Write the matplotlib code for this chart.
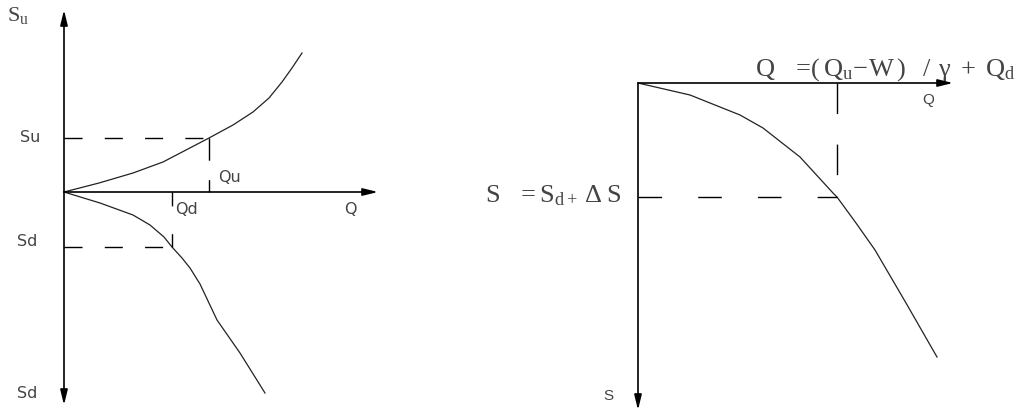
import matplotlib
matplotlib.use("Agg")
import matplotlib.pyplot as plt

plt.rcParams['font.family'] = ['DejaVu Sans']
plt.rcParams['mathtext.fontset'] = 'custom'
plt.rcParams['mathtext.rm'] = 'Liberation Serif'
plt.rcParams['mathtext.it'] = 'Liberation Serif'
plt.rcParams['lines.scale_dashes'] = False

# left panel: Q to the right, S positive up (upstream) / negative down (downstream)
up_q = [0, 35, 69, 99, 145, 169, 189, 205, 218, 228, 238]
up_s = [0, 9, 19, 30, 54, 67, 80, 94, 110, 124, 139]
down_q = [0, 36, 69, 86, 100, 108, 118, 126, 136, 153, 176, 201]
down_s = [0, -11, -23, -33, -45, -55, -66, -76, -92, -128, -161, -201]
qu, su = 145, 54
qd, sd = 108, -55

# right panel: Q to the right, S positive down
res_q = [0, 52, 102, 125, 162, 195, 199, 218, 237, 268, 299]
res_s = [0, 12, 32, 45, 74, 110, 114, 140, 167, 220, 274]
q_res, s_res = 199, 114

TXT = '#444444'
LINE = '#222222'
DASH = (13, 16)

fig = plt.figure(figsize=(10.2, 4.13), dpi=100)
ax1 = fig.add_axes([0, 0, 0.5, 1])
ax2 = fig.add_axes([0.5, 0, 0.5, 1])
for ax in (ax1, ax2):
    ax.axis('off')
ax1.set_xlim(-64, 446)
ax1.set_ylim(-221, 192)
ax2.set_xlim(-128, 382)
ax2.set_ylim(330, -83)


def arrow(ax, tip, tail, style='-|>'):
    ax.annotate("", xy=tip, xytext=tail,
                arrowprops=dict(arrowstyle=style + ',head_length=0.9,head_width=0.22',
                                lw=1.2, color='black', mutation_scale=10,
                                shrinkA=0, shrinkB=0))


# ---- left panel ----
arrow(ax1, (0, 182), (0, -213), style='<|-|>')
arrow(ax1, (314, 0), (0, 0))
ax1.plot(up_q, up_s, color=LINE, lw=0.9)
ax1.plot(down_q, down_s, color=LINE, lw=0.9)
ax1.plot([0, qu], [su, su], color='black', lw=1, dashes=DASH)
ax1.plot([qu, qu], [su, 0], color='black', lw=1, dashes=(16, 14))
ax1.plot([0, qd], [sd, sd], color='black', lw=1, dashes=DASH)
ax1.plot([qd, qd], [0, sd], color='black', lw=1, dashes=(10, 20, 14, 4))

ax1.text(-46, 177, r"$\mathrm{S_u}$", fontsize=16, color=TXT, ha='center', va='center')
ax1.text(-34, su, "Su", fontsize=11.5, color=TXT, ha='center', va='center')
ax1.text(-37, sd + 6, "Sd", fontsize=11.5, color=TXT, ha='center', va='center')
ax1.text(-37, -201, "Sd", fontsize=11.5, color=TXT, ha='center', va='center')
ax1.text(154, 15, "Qu", fontsize=11.5, color=TXT, ha='left', va='center')
ax1.text(qd + 3, -18, "Qd", fontsize=11.5, color=TXT, ha='left', va='center')
ax1.text(286, -17, "Q", fontsize=11.5, color=TXT, ha='center', va='center')

# ---- right panel ----
arrow(ax2, (315, 0), (0, 0))
arrow(ax2, (0, 327), (0, 0))
ax2.plot(res_q, res_s, color=LINE, lw=0.9)
ax2.plot([0, q_res], [s_res, s_res], color='black', lw=1, dashes=(17, 26))
ax2.plot([q_res, q_res], [0, s_res], color='black', lw=1, dashes=(22, 22))

ax2.text(117, -7,
         r"$\mathrm{Q\;\;\;=\!(\,Q_u\!-\!W\,)\;\;\;/\;\,γ\;+\;Q_d}$",
         fontsize=19, color=TXT, ha='left', va='baseline', clip_on=False)
ax2.text(290, 17, "Q", fontsize=11, color=TXT, ha='center', va='center',
         family='Liberation Sans')
ax2.text(-16, s_res - 2, r"$\mathrm{S\;\;\;=S_{d+}\,Δ\;S}$", fontsize=19,
         color=TXT, ha='right', va='center')
ax2.text(-30, 313, "S", fontsize=11, color=TXT, ha='center', va='center',
         family='Liberation Sans')

fig.savefig("out.png", dpi=100)
